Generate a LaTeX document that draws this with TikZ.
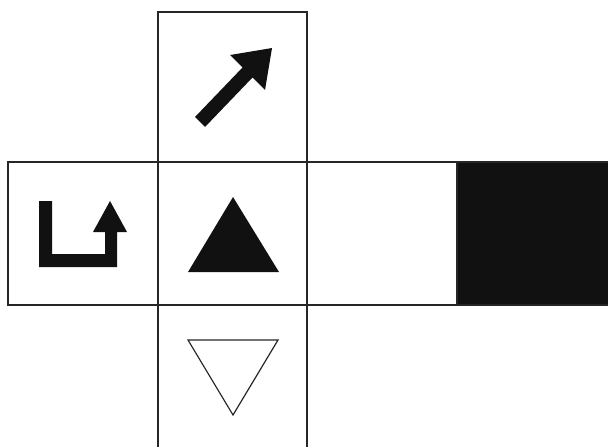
\documentclass[tikz,border=0pt]{standalone}
\usepackage{xcolor}
\usepackage{tikz}
\definecolor{edge}{HTML}{262626}
\definecolor{ink}{HTML}{111111}

\begin{document}
\begin{tikzpicture}[x=1pt,y=-1pt,
        face/.style={draw=edge,line width=1.2pt,minimum width=149pt,minimum height=143pt,
          inner sep=0pt,outer sep=0pt},
        glyph/.style={fill=ink,draw=none}]
      \useasboundingbox (0,0) rectangle (608,447);
      \clip (0,0) rectangle (608,447);
      % the six faces of the net
      \node[face,minimum height=150pt] (up) at (232.5,87) {};
      \node[face,minimum width=150pt] (left) at (83,233.5) {};
      \node[face] (front) at (232.5,233.5) {};
      \node[face,minimum width=150pt] (right) at (382,233.5) {};
      \node[face,fill=ink,minimum width=153pt] (back) at (533.5,233.5) {};
      \node[face,minimum height=150pt] (down) at (232.5,380) {};
      % symbols
      \fill[glyph] (195,117) -- (242.5,67.5) -- (230,55) -- (272,48) -- (265,90)
        -- (252.5,77.5) -- (205,127) -- cycle;
      \fill[glyph] (39,201) -- (52,201) -- (52,254) -- (105,254) -- (105,232) -- (93,232)
        -- (110,201) -- (127,232) -- (117,232) -- (117,267) -- (39,267) -- cycle;
      \fill[glyph] (233,197) -- (279,272) -- (188,272) -- cycle;
      \draw[edge,line width=1.2pt,line join=miter] (188,340) -- (278,340) -- (233,415) -- cycle;
    \end{tikzpicture}
\end{document}
